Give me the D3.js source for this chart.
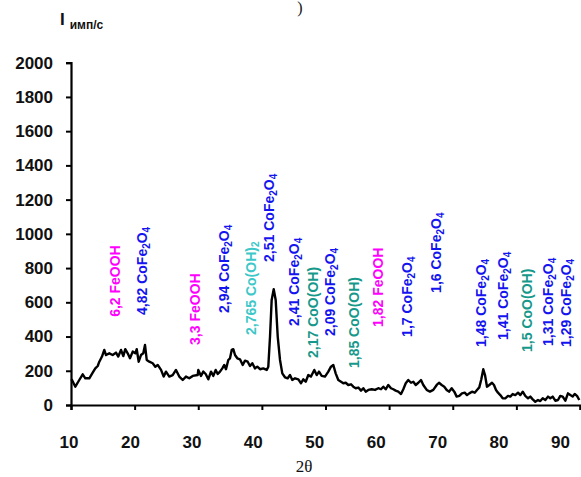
<!DOCTYPE html>
<html>
<head>
<meta charset="utf-8">
<script src="https://cdn.jsdelivr.net/npm/d3@7"></script>
<style>
  html, body { margin: 0; padding: 0; background: #fff; }
  svg { display: block; }
</style>
</head>
<body>
<svg id="chart" width="581" height="477"></svg>
<script>
// ---- data ----
const twoTheta = [10.00,10.16,10.68,11.30,11.84,12.25,12.88,13.41,13.82,14.20,14.45,14.87,15.23,15.50,16.02,16.55,17.07,17.43,17.86,18.22,18.53,18.91,19.27,19.70,20.11,20.33,20.64,21.00,21.36,21.63,21.90,22.31,22.84,23.25,23.63,24.15,24.57,24.93,25.45,25.98,26.50,27.02,27.56,28.07,28.59,29.13,29.91,
30.01,30.43,30.79,31.17,31.58,32.00,32.37,32.74,33.06,33.42,33.78,34.09,34.36,34.72,34.99,35.26,35.51,35.78,36.14,36.56,36.99,37.35,37.77,38.13,38.50,38.92,39.28,39.71,40.22,40.76,41.01,41.28,41.54,41.86,42.17,42.49,42.85,43.21,43.63,44.06,44.42,44.78,45.21,45.73,46.15,46.51,46.89,47.30,47.72,48.24,48.62,48.98,49.40,
49.92,50.44,50.86,51.23,51.60,52.01,52.44,52.80,53.18,53.58,54.01,54.37,54.75,55.16,55.58,55.94,56.32,56.73,57.26,57.78,58.30,58.72,59.09,59.46,59.87,60.29,60.66,61.03,61.44,61.87,62.23,62.61,63.01,63.44,63.80,64.18,64.59,65.01,65.37,65.91,66.42,66.94,67.48,67.84,68.26,68.67,69.05,69.41,69.83,70.24,70.62,
71.03,71.45,71.88,72.24,72.60,73.03,73.45,73.81,74.17,74.49,74.80,75.07,75.38,75.74,76.17,76.48,76.80,77.11,77.47,77.85,78.26,78.68,79.05,79.42,79.83,80.26,80.62,81.00,81.40,81.83,82.19,82.57,82.98,83.40,83.76,84.14,84.55,84.97,85.33,85.71,86.12,86.54,86.90,87.28,87.69,88.11,88.48,88.85,89.17,89.53,89.89];

const intensity = [150,146,107,146,179,156,156,189,214,228,253,283,322,292,302,292,306,283,322,286,326,302,273,312,302,326,253,292,302,351,263,253,244,224,234,205,166,195,166,175,205,166,146,166,156,170,175,
205,170,195,181,150,195,170,205,181,195,214,234,209,263,273,322,326,292,273,267,234,259,253,228,244,214,224,209,214,205,224,400,614,677,614,400,263,185,162,156,175,146,156,150,127,150,136,175,166,205,175,195,170,
166,195,224,234,185,146,136,127,130,117,121,107,98,102,84,98,78,88,92,88,98,92,107,92,117,98,92,84,78,64,92,127,146,130,136,117,130,146,117,88,78,88,117,130,117,107,88,78,98,78,49,
53,68,72,58,68,78,72,88,103,150,209,175,107,117,130,117,88,72,58,39,39,53,49,64,58,72,58,78,53,39,49,33,19,29,23,39,29,49,39,49,25,29,53,49,25,68,58,49,64,53,29];

const xTicks = [10, 20, 30, 40, 50, 60, 70, 80, 90];
const yTicks = [0, 200, 400, 600, 800, 1000, 1200, 1400, 1600, 1800, 2000];

// annotation labels: d-spacing, phase, 2θ position, level of label start (intensity units)
const labelD     = ["6,2","4,82","3,3","2,94","2,765","2,51","2,41","2,17","2,09","1,85","1,82","1,7","1,6","1,48","1,41","1,5","1,31","1,29"];
const labelPhase = ["FeOOH","CoFe2O4","FeOOH","CoFe2O4","Co(OH)2","CoFe2O4","CoFe2O4","CoO(OH)","CoFe2O4","CoO(OH)","FeOOH","CoFe2O4","CoFe2O4","CoFe2O4","CoFe2O4","CoO(OH)","CoFe2O4","CoFe2O4"];
const labelAt    = [16.84,21.08,29.49,34.05,38.29,41.12,45.05,48.04,50.71,54.48,58.25,62.81,67.37,74.44,77.82,81.67,84.89,87.80];
const labelLevel = [515,526,351,538,409,836,462,275,403,216,456,398,655,339,380,310,345,339];

// ---- drawing ----
const svg = d3.select("#chart");
const x = d3.scaleLinear().domain([10, 90]).range([71, 580]);
const xLab = d3.scaleLinear().domain([10, 90]).range([68.5, 560]);
const y = d3.scaleLinear().domain([0, 2000]).range([405, 62.7]);

const phaseColor = {
  "FeOOH": "#ff00ff",
  "CoFe2O4": "#1414f0",
  "Co(OH)2": "#3cc8c8",
  "CoO(OH)": "#16988a"
};

// axes
const yAxis = svg.append("g").attr("transform", `translate(${x(10)},0)`)
  .call(d3.axisLeft(y).tickValues(yTicks).tickSize(5).tickPadding(13).tickFormat(d3.format("d")));
const xAxis = svg.append("g").attr("transform", `translate(0,${y(0)})`)
  .call(d3.axisBottom(x).tickValues(xTicks).tickSize(5).tickPadding(26).tickFormat(d3.format("d")));

[yAxis, xAxis].forEach(g => {
  g.select(".domain").attr("stroke", "#000").attr("stroke-width", 2.2);
  g.selectAll(".tick line").attr("stroke", "#000").attr("stroke-width", 2);
  g.selectAll(".tick text")
    .attr("fill", "#111")
    .style("font-family", "'Liberation Sans', Arial, sans-serif")
    .style("font-weight", "bold")
    .style("font-size", "17px");
});
xAxis.selectAll(".tick text").attr("dx", d => xLab(d) - x(d));

// line
const line = d3.line().x((d, i) => x(twoTheta[i])).y(d => y(d));
svg.append("path")
  .datum(intensity)
  .attr("fill", "none")
  .attr("stroke", "#000")
  .attr("stroke-width", 2.4)
  .attr("stroke-linejoin", "round")
  .attr("d", line);

// annotations
function addFormula(t, phase) {
  const sub = (s) => t.append("tspan").attr("font-size", 10).attr("dy", 3).text(s);
  const up = (s) => t.append("tspan").attr("font-size", 14).attr("dy", -3).text(s);
  if (phase === "CoFe2O4") {
    t.append("tspan").text("CoFe"); sub("2"); up("O"); sub("4");
  } else if (phase === "Co(OH)2") {
    t.append("tspan").text("Co(OH)"); sub("2");
  } else {
    t.append("tspan").text(phase);
  }
}
labelD.forEach((d, i) => {
  const t = svg.append("text")
    .attr("transform", `translate(${x(labelAt[i])},${y(labelLevel[i])}) rotate(-90)`)
    .attr("dy", "0.36em")
    .attr("fill", phaseColor[labelPhase[i]])
    .style("font-family", "'Liberation Sans', Arial, sans-serif")
    .style("font-weight", "bold")
    .style("font-size", "14px");
  t.append("tspan").text(d + " ");
  addFormula(t, labelPhase[i]);
});

// axis titles
const yt = svg.append("text").attr("x", 60).attr("y", 25)
  .style("font-family", "'Liberation Sans', Arial, sans-serif").style("font-weight", "bold").attr("fill", "#111");
yt.append("tspan").style("font-size", "17px").text("I");
yt.append("tspan").style("font-size", "12px").attr("dx", 5).attr("dy", 4).text("имп/с");

svg.append("text").attr("x", 304).attr("y", 472).attr("text-anchor", "middle")
  .style("font-family", "'Liberation Serif', 'Times New Roman', serif")
  .style("font-size", "17px").attr("fill", "#111").text("2θ");

svg.append("text").attr("x", 300).attr("y", 13).attr("text-anchor", "middle")
  .style("font-family", "'Liberation Serif', 'Times New Roman', serif")
  .style("font-size", "16px").attr("fill", "#111").text(")");
</script>
</body>
</html>
